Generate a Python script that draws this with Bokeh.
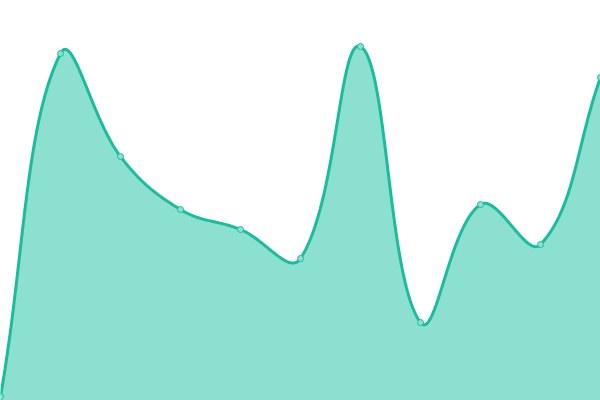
import numpy as np
from bokeh.plotting import figure
from bokeh.models import Range1d
from bokeh.embed import file_html
from bokeh.resources import INLINE

# data
categories = list(range(11))
values = [4, 347, 244, 191, 171, 142, 354, 78, 196, 156, 323]

LINE = "#1abc9c"
FILL = "#8ce0cf"
TENSION = 0.4

W, H = 600, 400
x_start, x_end = 0, 10
y_start, y_end = 0, 400
sx = W / (x_end - x_start)
sy = H / (y_end - y_start)

# Chart.js-like cubic spline control points computed in screen-proportional space
px = np.array(categories, float) * sx
py = np.array(values, float) * sy
n = len(px)
cp_prev = []
cp_next = []
for i in range(n):
    prev = (px[max(i - 1, 0)], py[max(i - 1, 0)])
    cur = (px[i], py[i])
    nxt = (px[min(i + 1, n - 1)], py[min(i + 1, n - 1)])
    d01 = np.hypot(cur[0] - prev[0], cur[1] - prev[1])
    d12 = np.hypot(nxt[0] - cur[0], nxt[1] - cur[1])
    s = d01 + d12
    s01 = d01 / s if s else 0
    s12 = d12 / s if s else 0
    fa = TENSION * s01
    fb = TENSION * s12
    cp_prev.append((cur[0] - fa * (nxt[0] - prev[0]), cur[1] - fa * (nxt[1] - prev[1])))
    cp_next.append((cur[0] + fb * (nxt[0] - prev[0]), cur[1] + fb * (nxt[1] - prev[1])))

xs, ys = [], []
t = np.linspace(0, 1, 60)
for i in range(n - 1):
    p0 = np.array([px[i], py[i]])
    p1 = np.array(cp_next[i])
    p2 = np.array(cp_prev[i + 1])
    p3 = np.array([px[i + 1], py[i + 1]])
    seg = ((1 - t) ** 3)[:, None] * p0 + (3 * (1 - t) ** 2 * t)[:, None] * p1 \
        + (3 * (1 - t) * t ** 2)[:, None] * p2 + (t ** 3)[:, None] * p3
    if i > 0:
        seg = seg[1:]
    xs.extend(seg[:, 0] / sx)
    ys.extend(seg[:, 1] / sy)

p = figure(width=W, height=H, output_backend="svg", toolbar_location=None,
           x_range=Range1d(x_start, x_end), y_range=Range1d(y_start, y_end),
           min_border=0, x_axis_location=None, y_axis_location=None)
p.grid.visible = False
p.outline_line_color = None
p.background_fill_color = "white"
p.border_fill_color = "white"

p.varea(x=xs, y1=[0] * len(xs), y2=ys, fill_color=FILL, fill_alpha=1)
p.line(xs, ys, line_color=LINE, line_width=3)
p.scatter(categories, values, size=6, fill_color=FILL, line_color=LINE, line_width=1)

open("out.html", "w").write(file_html(p, INLINE))
